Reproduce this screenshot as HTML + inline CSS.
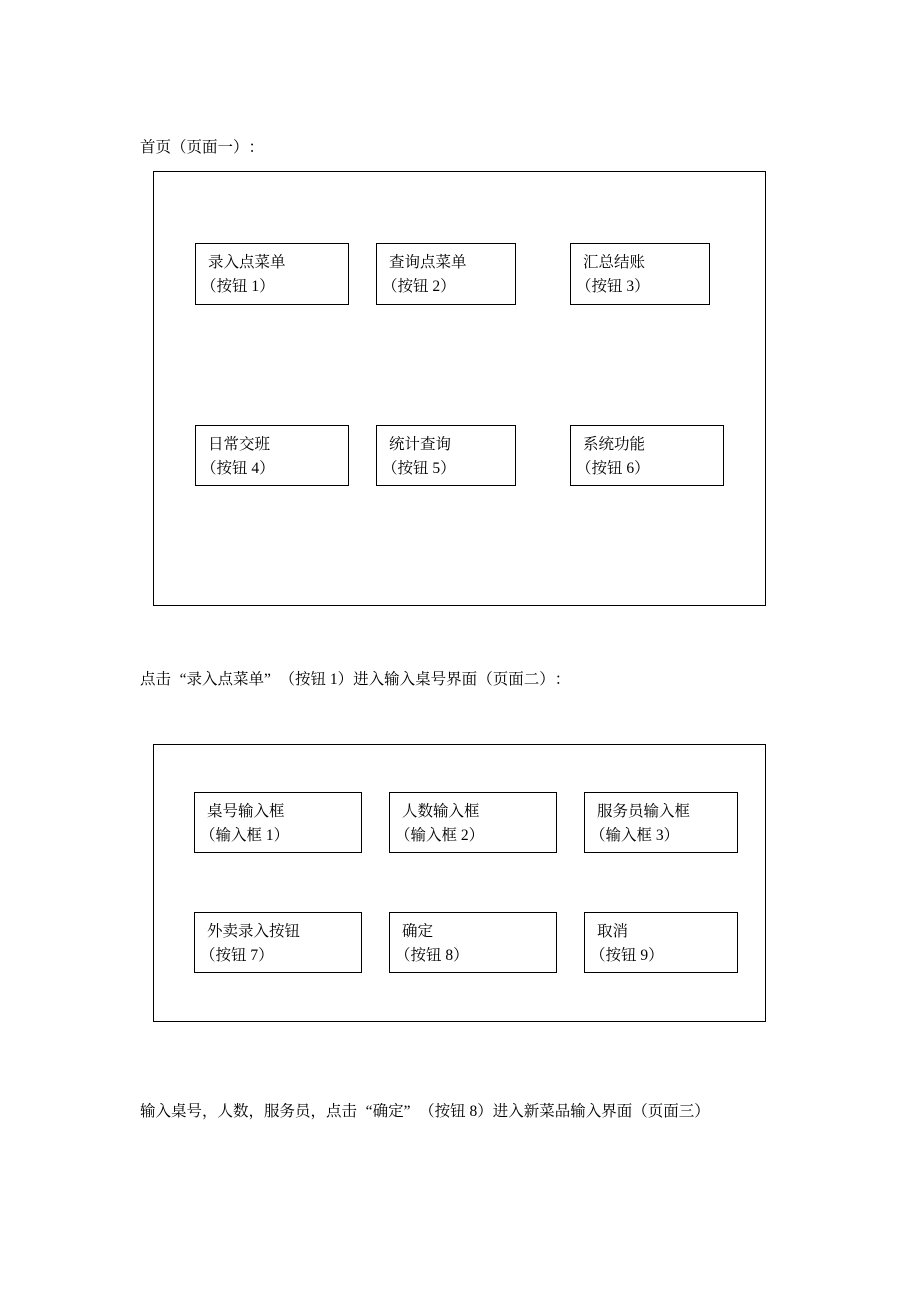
<!DOCTYPE html>
<html><head><meta charset="utf-8"><style>
body{margin:0;background:#fff;}
#p{position:relative;width:920px;height:1302px;font-family:"Liberation Serif","Noto Serif CJK SC","WenQuanYi Zen Hei",serif;font-size:15.5px;color:#000;}
.t{position:absolute;white-space:nowrap;line-height:18px;}
.b{position:absolute;border:1px solid #000;box-sizing:border-box;}
.b>span{position:absolute;left:12px;white-space:nowrap;line-height:18px;}
.b>.l1{top:10px}.b>.l2{top:34px;left:5px}
b{font-weight:normal}
.o{display:inline-block;width:15.5px;text-align:right;}
.c{display:inline-block;width:15.5px;text-align:left;}
</style></head><body><div id="p">
<div class="t" style="left:140px;top:139px">首页<b class="o">（</b>页面一<b class="c">）</b><b class="c">：</b></div>
<div class="b" style="left:153px;top:171px;width:613px;height:435px"></div>
<div class="b" style="left:195px;top:243px;width:154px;height:62px"><span class="l1">录入点菜单</span><span class="l2"><b class="o">（</b>按钮 1<b class="c">）</b></span></div>
<div class="b" style="left:376px;top:243px;width:140px;height:62px"><span class="l1">查询点菜单</span><span class="l2"><b class="o">（</b>按钮 2<b class="c">）</b></span></div>
<div class="b" style="left:570px;top:243px;width:140px;height:62px"><span class="l1">汇总结账</span><span class="l2"><b class="o">（</b>按钮 3<b class="c">）</b></span></div>
<div class="b" style="left:195px;top:425px;width:154px;height:61px"><span class="l1">日常交班</span><span class="l2"><b class="o">（</b>按钮 4<b class="c">）</b></span></div>
<div class="b" style="left:376px;top:425px;width:140px;height:61px"><span class="l1">统计查询</span><span class="l2"><b class="o">（</b>按钮 5<b class="c">）</b></span></div>
<div class="b" style="left:570px;top:425px;width:154px;height:61px"><span class="l1">系统功能</span><span class="l2"><b class="o">（</b>按钮 6<b class="c">）</b></span></div>
<div class="t" style="left:140px;top:671px">点击<b class="o">“</b>录入点菜单<b class="c">”</b><b class="o">（</b>按钮 1<b class="c">）</b>进入输入桌号界面<b class="o">（</b>页面二<b class="c">）</b><b class="c">：</b></div>
<div class="b" style="left:153px;top:744px;width:613px;height:278px"></div>
<div class="b" style="left:194px;top:792px;width:168px;height:61px"><span class="l1">桌号输入框</span><span class="l2"><b class="o">（</b>输入框 1<b class="c">）</b></span></div>
<div class="b" style="left:389px;top:792px;width:168px;height:61px"><span class="l1">人数输入框</span><span class="l2"><b class="o">（</b>输入框 2<b class="c">）</b></span></div>
<div class="b" style="left:584px;top:792px;width:154px;height:61px"><span class="l1">服务员输入框</span><span class="l2"><b class="o">（</b>输入框 3<b class="c">）</b></span></div>
<div class="b" style="left:194px;top:912px;width:168px;height:61px"><span class="l1">外卖录入按钮</span><span class="l2"><b class="o">（</b>按钮 7<b class="c">）</b></span></div>
<div class="b" style="left:389px;top:912px;width:168px;height:61px"><span class="l1">确定</span><span class="l2"><b class="o">（</b>按钮 8<b class="c">）</b></span></div>
<div class="b" style="left:584px;top:912px;width:154px;height:61px"><span class="l1">取消</span><span class="l2"><b class="o">（</b>按钮 9<b class="c">）</b></span></div>
<div class="t" style="left:140px;top:1103px">输入桌号<b class="c">，</b>人数<b class="c">，</b>服务员<b class="c">，</b>点击<b class="o">“</b>确定<b class="c">”</b><b class="o">（</b>按钮 8<b class="c">）</b>进入新菜品输入界面<b class="o">（</b>页面三<b class="c">）</b></div>
</div></body></html>
